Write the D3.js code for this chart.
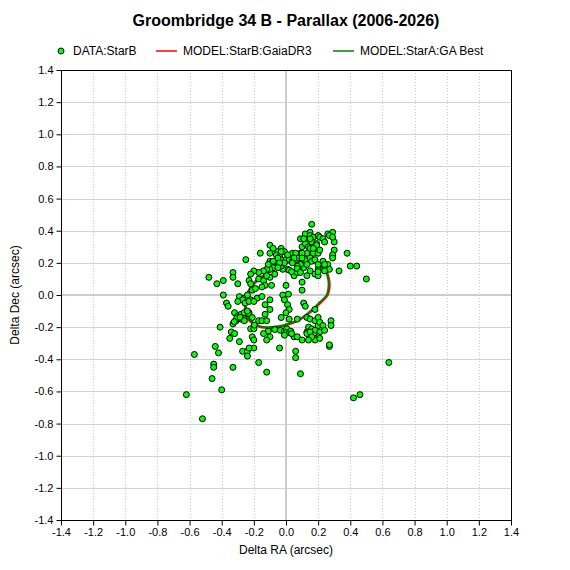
<!DOCTYPE html>
<html>
<head>
<meta charset="utf-8">
<script src="https://cdn.jsdelivr.net/npm/d3@7"></script>
<style>
html,body{margin:0;padding:0;background:#fff;}
svg{display:block;}
text{font-family:"Liberation Sans",Arial,sans-serif;}
</style>
</head>
<body>
<svg id="chart" width="570" height="570"></svg>
<script>
const titleText = "Groombridge 34 B - Parallax (2006-2026)";
const xLabel = "Delta RA (arcsec)";
const yLabel = "Delta Dec (arcsec)";
const legendLabels = ["DATA:StarB", "MODEL:StarB:GaiaDR3", "MODEL:StarA:GA Best"];
const tickValues = [-1.4,-1.2,-1.0,-0.8,-0.6,-0.4,-0.2,0.0,0.2,0.4,0.6,0.8,1.0,1.2,1.4];

// DATA:StarB observed offsets (arcsec)
const dataRA = [
0.16,0.12,0.15,0.15,0.17,0.20,0.21,0.23,0.26,0.29,0.27,0.30,0.24,0.09,0.10,0.12,0.14,0.16,0.19,0.19,
0.15,0.17,0.20,0.13,0.09,0.08,0.30,0.29,0.29,0.38,-0.10,-0.08,-0.05,-0.03,-0.01,-0.10,-0.16,-0.06,-0.04,0.04,
0.06,0.10,-0.25,-0.10,-0.09,-0.05,-0.03,0.00,0.02,0.04,0.06,0.08,0.10,0.12,0.15,0.16,0.18,0.23,0.26,0.40,
0.44,0.33,0.27,0.24,0.20,0.18,0.20,0.15,0.11,0.08,0.05,0.07,0.01,-0.02,-0.03,-0.05,-0.08,-0.10,-0.12,-0.14,
-0.17,-0.20,-0.22,-0.33,-0.33,-0.48,-0.43,-0.39,-0.30,-0.23,-0.22,-0.17,-0.14,-0.10,-0.12,-0.07,-0.13,-0.09,0.00,0.10,
0.10,0.50,-0.39,-0.37,-0.36,-0.29,-0.26,-0.27,-0.24,-0.21,-0.19,-0.15,-0.22,-0.18,-0.15,-0.10,-0.13,-0.10,-0.02,-0.01,
0.01,0.02,0.00,-0.03,0.11,0.12,-0.13,-0.32,-0.30,-0.28,-0.26,-0.31,-0.33,-0.28,-0.26,-0.23,-0.21,-0.41,-0.34,-0.32,
-0.35,-0.29,-0.22,-0.20,-0.17,-0.15,-0.12,-0.11,-0.07,-0.035,-0.01,0.005,0.02,0.00,0.02,-0.01,0.13,0.15,0.18,0.20,
0.20,0.21,0.23,0.28,0.28,0.14,0.16,0.13,0.13,0.18,0.21,0.20,0.18,0.18,0.21,0.05,0.07,0.10,-0.21,-0.20,
-0.14,-0.10,-0.12,-0.44,-0.42,-0.04,0.06,0.06,-0.27,-0.24,-0.20,-0.23,-0.24,0.27,0.27,-0.57,-0.45,-0.45,-0.33,-0.17,
-0.12,0.09,-0.46,-0.40,-0.62,0.42,0.46,-0.52,0.64,
0.15,0.29,0.21,0.17,0.11,-0.03,-0.05,0.01,-0.01,0.05,0.10,0.24,0.20,0.20,0.13,0.09,0.07,0.04,-0.04,-0.08,
-0.11,-0.05,0.02,0.035,0.07,0.09,0.13,0.015,
-0.30,-0.255,-0.23,-0.20,-0.234,-0.307,-0.286,-0.322,-0.259,-0.197,-0.24,
0.03,0.035,0.07,0.18,0.24,0.15,0.16,0.14
];
const dataDec = [
0.44,0.38,0.39,0.37,0.36,0.37,0.36,0.35,0.38,0.39,0.37,0.33,0.33,0.35,0.30,0.32,0.30,0.33,0.32,0.31,
0.29,0.26,0.26,0.26,0.26,0.25,0.28,0.25,0.23,0.26,0.31,0.29,0.27,0.29,0.27,0.26,0.26,0.25,0.24,0.26,
0.26,0.26,0.22,0.21,0.20,0.21,0.22,0.22,0.22,0.21,0.22,0.23,0.22,0.22,0.23,0.21,0.22,0.21,0.19,0.18,
0.18,0.15,0.16,0.15,0.16,0.13,0.12,0.15,0.17,0.15,0.12,0.14,0.16,0.16,0.18,0.18,0.17,0.16,0.16,0.15,
0.14,0.15,0.13,0.14,0.11,0.11,0.07,0.09,0.07,0.09,0.07,0.10,0.09,0.11,0.12,0.13,0.06,0.06,0.06,0.08,
0.03,0.10,0.00,-0.05,-0.07,-0.01,-0.02,-0.03,0.00,0.03,0.04,0.05,-0.03,-0.02,-0.01,-0.03,-0.06,-0.09,0.00,-0.03,
-0.06,-0.09,-0.11,-0.14,-0.05,-0.07,-0.12,-0.11,-0.13,-0.12,-0.12,-0.16,-0.18,-0.15,-0.11,-0.11,-0.14,-0.20,-0.23,-0.24,
-0.27,-0.29,-0.21,-0.21,-0.16,-0.16,-0.16,-0.225,-0.215,-0.22,-0.225,-0.21,-0.15,-0.235,-0.235,-0.25,-0.14,-0.15,-0.16,-0.14,
-0.19,-0.17,-0.19,-0.16,-0.19,-0.20,-0.21,-0.23,-0.24,-0.22,-0.23,-0.26,-0.27,-0.28,-0.27,-0.26,-0.26,-0.28,-0.26,-0.28,
-0.24,-0.26,-0.28,-0.32,-0.36,-0.33,-0.35,-0.39,-0.35,-0.35,-0.33,-0.33,-0.38,-0.32,-0.31,-0.37,-0.43,-0.45,-0.45,-0.42,
-0.48,-0.49,-0.52,-0.59,-0.62,-0.64,-0.62,-0.77,-0.42,
0.35,0.36,0.28,0.29,0.35,0.27,0.23,0.25,0.20,0.23,0.23,0.19,0.19,0.145,0.19,0.19,0.18,0.20,0.20,0.21,
0.19,0.17,0.155,0.145,0.165,0.14,0.12,0.005,
-0.04,-0.05,-0.04,-0.04,-0.114,-0.145,-0.139,-0.166,-0.16,-0.187,-0.10,
-0.225,-0.24,-0.15,-0.09,-0.22,-0.23,-0.26,-0.28
];

// MODEL curves (arcsec), traced
const modelB_RA  = [-0.135,-0.085,-0.02,0.05,0.12,0.185,0.225,0.255,0.268,0.272,0.267,0.255,0.215,0.178,0.142,0.10,0.07,0.01,-0.05,-0.11,-0.163,-0.205,-0.24,-0.254,-0.256,-0.25,-0.225,-0.185,-0.135];
const modelB_Dec = [0.125,0.165,0.195,0.215,0.22,0.205,0.18,0.143,0.10,0.06,0.02,-0.008,-0.05,-0.085,-0.115,-0.145,-0.163,-0.186,-0.201,-0.206,-0.20,-0.18,-0.146,-0.10,-0.05,-0.01,0.042,0.09,0.125];
const modelA_RA  = [-0.13,-0.08,-0.02,0.05,0.12,0.18,0.22,0.25,0.262,0.265,0.26,0.25,0.21,0.175,0.14,0.10,0.07,0.01,-0.05,-0.11,-0.16,-0.20,-0.235,-0.248,-0.25,-0.245,-0.22,-0.18,-0.13];
const modelA_Dec = [0.12,0.16,0.19,0.21,0.215,0.20,0.175,0.14,0.10,0.06,0.02,-0.005,-0.045,-0.08,-0.11,-0.14,-0.158,-0.18,-0.195,-0.20,-0.195,-0.175,-0.143,-0.10,-0.05,-0.01,0.04,0.085,0.12];

const svg = d3.select("#chart");
const L = 61, R = 511, T = 70, B = 520;
const x = d3.scaleLinear().domain([-1.4, 1.4]).range([L, R]);
const y = d3.scaleLinear().domain([-1.4, 1.4]).range([B, T]);
const fmt = v => (Math.abs(v) < 1e-9 ? 0 : v).toFixed(1);

// grid
const g = svg.append("g");
const inner = tickValues.filter(v => Math.abs(v) > 1e-9 && Math.abs(Math.abs(v) - 1.4) > 1e-9);
g.selectAll(".hg").data(inner).enter()
  .append("line").attr("x1", L).attr("x2", R)
  .attr("y1", d => Math.round(y(d)) + 0.5).attr("y2", d => Math.round(y(d)) + 0.5)
  .attr("stroke", "#d3d3d3").attr("stroke-width", 1);
g.selectAll(".vg").data(inner).enter()
  .append("line").attr("y1", T).attr("y2", B)
  .attr("x1", d => Math.round(x(d)) + 0.5).attr("x2", d => Math.round(x(d)) + 0.5)
  .attr("stroke", "#c8c8c8").attr("stroke-width", 1).attr("stroke-dasharray", "1,2");
g.append("line").attr("x1", L).attr("x2", R).attr("y1", y(0)).attr("y2", y(0))
  .attr("stroke", "#cccccc").attr("stroke-width", 2);
g.append("line").attr("y1", T).attr("y2", B).attr("x1", x(0)).attr("x2", x(0))
  .attr("stroke", "#cccccc").attr("stroke-width", 2);

// model lines
const line = d3.line().x(d => x(d[0])).y(d => y(d[1])).curve(d3.curveCatmullRom);
svg.append("path").datum(d3.zip(modelB_RA, modelB_Dec)).attr("d", line)
  .attr("fill", "none").attr("stroke", "#ff0000").attr("stroke-width", 2);
svg.append("path").datum(d3.zip(modelA_RA, modelA_Dec)).attr("d", line)
  .attr("fill", "none").attr("stroke", "#008000").attr("stroke-width", 2);

// data points
svg.append("g").selectAll("circle").data(d3.zip(dataRA, dataDec)).enter()
  .append("circle").attr("cx", d => x(d[0])).attr("cy", d => y(d[1])).attr("r", 3)
  .attr("fill", "#00ff00").attr("stroke", "#000").attr("stroke-width", 1);

// frame
svg.append("rect").attr("x", L + 0.5).attr("y", T + 0.5).attr("width", R - L).attr("height", B - T)
  .attr("fill", "none").attr("stroke", "#000").attr("stroke-width", 1);

// axes
const xa = svg.append("g").attr("transform", `translate(0,${B + 0.5})`)
  .call(d3.axisBottom(x).tickValues(tickValues).tickFormat(fmt).tickSize(5).tickSizeOuter(0));
const ya = svg.append("g").attr("transform", `translate(${L + 0.5},0)`)
  .call(d3.axisLeft(y).tickValues(tickValues).tickFormat(fmt).tickSize(5).tickSizeOuter(0));
[xa, ya].forEach(a => {
  a.select(".domain").remove();
  a.selectAll("text").attr("font-size", 11).attr("fill", "#000").style("font-family", '"Liberation Sans",Arial,sans-serif');
  a.selectAll("line").attr("stroke", "#000");
});
xa.selectAll("text").attr("dy", "0.71em").attr("y", 8);
ya.selectAll("text").attr("x", -8);

// titles
svg.append("text").attr("x", 286).attr("y", 26).attr("text-anchor", "middle")
  .attr("font-size", 16).attr("font-weight", "bold").text(titleText);
svg.append("text").attr("x", 286).attr("y", 554).attr("text-anchor", "middle")
  .attr("font-size", 12).text(xLabel);
svg.append("text").attr("transform", "translate(19,295) rotate(-90)").attr("text-anchor", "middle")
  .attr("font-size", 12).text(yLabel);

// legend
const ly = 51;
svg.append("circle").attr("cx", 61).attr("cy", ly).attr("r", 3)
  .attr("fill", "#00ff00").attr("stroke", "#000").attr("stroke-width", 1);
svg.append("text").attr("x", 73).attr("y", ly + 4).attr("font-size", 12).text(legendLabels[0]);
svg.append("line").attr("x1", 156).attr("x2", 177).attr("y1", ly).attr("y2", ly).attr("stroke", "#ff0000").attr("stroke-width", 1.5);
svg.append("text").attr("x", 183).attr("y", ly + 4).attr("font-size", 12).text(legendLabels[1]);
svg.append("line").attr("x1", 333).attr("x2", 354).attr("y1", ly).attr("y2", ly).attr("stroke", "#008000").attr("stroke-width", 1.5);
svg.append("text").attr("x", 360).attr("y", ly + 4).attr("font-size", 12).text(legendLabels[2]);
</script>
</body>
</html>
